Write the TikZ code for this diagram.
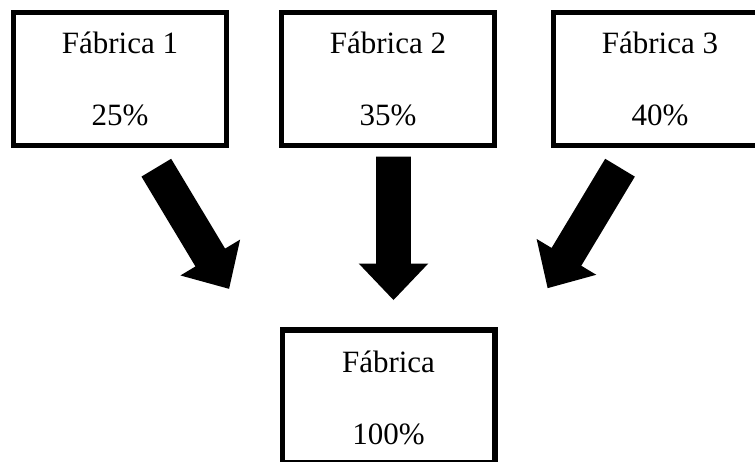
\documentclass[tikz,border=0pt]{standalone}
\usepackage{fontspec}
\setmainfont{Liberation Serif}
\begin{document}
\begin{tikzpicture}[x=1pt,y=-1pt,
  box/.style={draw=black, line width=5.3pt, fill=white, rectangle,
              minimum width=212.7pt, minimum height=132.7pt, inner sep=0pt},
  txt/.style={font=\fontsize{31}{36}\selectfont, text=black, inner sep=0pt, anchor=base},
  blockarrow/.pic={
    \fill[black] (0,-17.3) -- ({#1-36.5},-17.3) -- ({#1-36.5},-34.8)
      -- (#1,0) -- ({#1-36.5},34.8) -- ({#1-36.5},17.3) -- (0,17.3) -- cycle;
  }]
  % page frame
  \useasboundingbox (0,0) rectangle (755,461);
  \clip (0,0) rectangle (755,461);
  \fill[white] (0,0) rectangle (755,461);

  % source factories
  \node[box] (f1) at (120,79) {};
  \node[box] (f2) at (388,79) {};
  \node[box] (f3) at (660,79) {};
  % total
  \node[box] (ft) at (388.5,396.3) {};

  % labels
  \node[txt] (f1a) at ([yshift=25.5pt]f1.center) {Fábrica 1};
  \node[txt] (f1b) at ([yshift=-46pt]f1.center) {25\%};
  \node[txt] (f2a) at ([yshift=25.5pt]f2.center) {Fábrica 2};
  \node[txt] (f2b) at ([yshift=-46pt]f2.center) {35\%};
  \node[txt] (f3a) at ([yshift=25.5pt]f3.center) {Fábrica 3};
  \node[txt] (f3b) at ([yshift=-46pt]f3.center) {40\%};
  \node[txt] (fta) at ([yshift=23.5pt]ft.center) {Fábrica};
  \node[txt] (ftb) at ([yshift=-48.5pt]ft.center) {100\%};

  % block arrows towards the total
  \pic[rotate=-59]  at (156.3,167.7) {blockarrow=141.3};
  \pic[rotate=-90]  at (393.5,156.7) {blockarrow=143.3};
  \pic[rotate=-121] at (620,167.7)   {blockarrow=140.5};
\end{tikzpicture}
\end{document}
